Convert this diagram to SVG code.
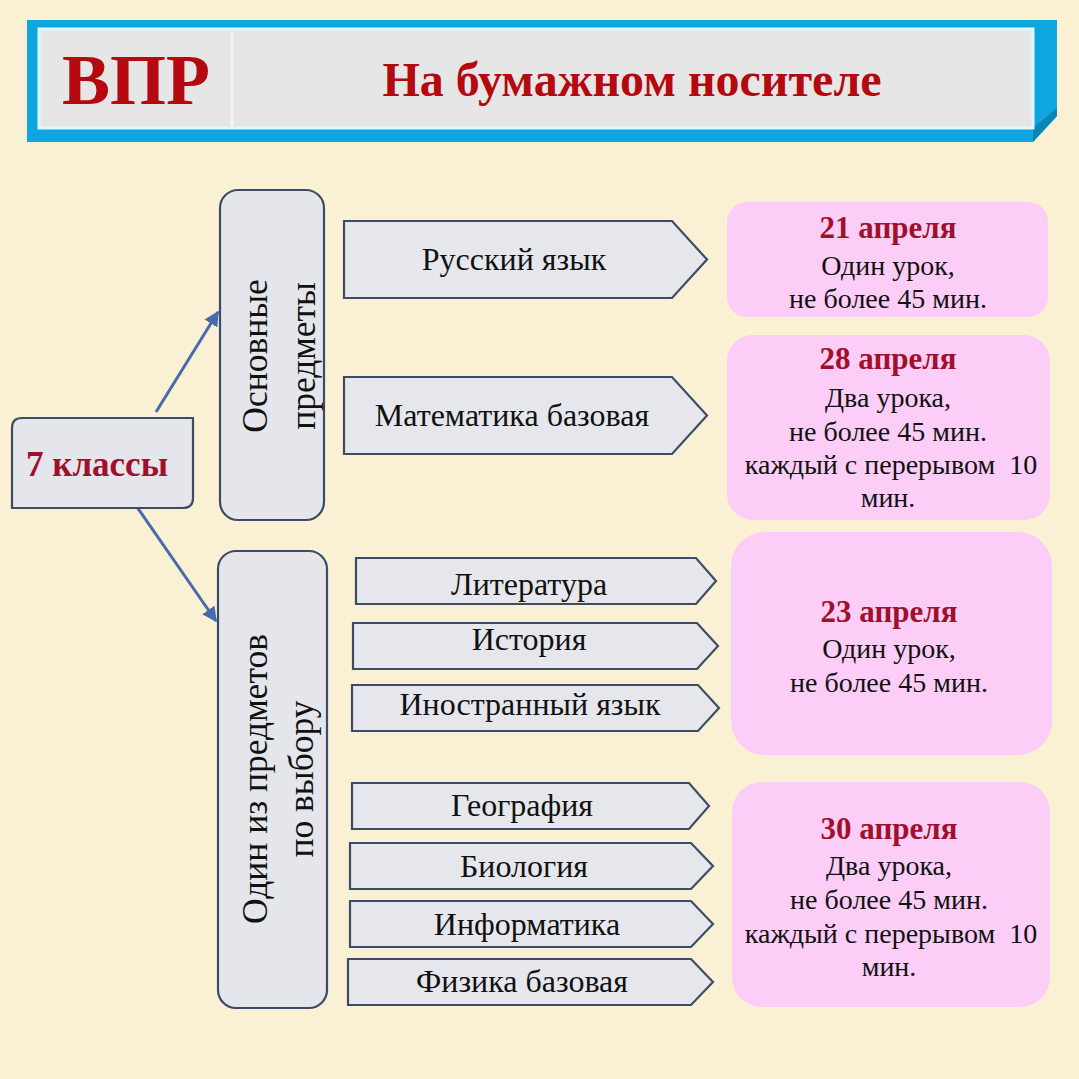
<svg xmlns="http://www.w3.org/2000/svg" width="1079" height="1079" viewBox="0 0 1079 1079">
<defs>
<style>
.bg{fill:#FAF1D4}
.pent{fill:#E6E7EC;stroke:#3D4C66;stroke-width:2.2}
.tall{fill:#E5E6EB;stroke:#3D4C66;stroke-width:2.2}
.pink{fill:#FBCDF7}
.t{font-family:"Liberation Serif","Times New Roman",serif;fill:#111}
.lbl{font-size:32px;text-anchor:middle}
.rot{font-size:35.5px;text-anchor:middle}
.date{font-family:"Liberation Serif","Times New Roman",serif;font-weight:bold;font-size:31px;fill:#A0102A;text-anchor:middle}
.info{font-size:28px;text-anchor:middle}
.conn{stroke:#4A6AAE;stroke-width:3;fill:none}
</style>
<marker id="ah" viewBox="0 0 10 10" refX="9" refY="5" markerWidth="5" markerHeight="5" orient="auto" markerUnits="strokeWidth">
<path d="M0,0 L10,5 L0,10 z" fill="#4A6AAE"/>
</marker>
</defs>
<rect class="bg" x="0" y="0" width="1079" height="1079"/>

<g id="header">
<polygon points="27,20 1057,20 1057,116 1033,142 27,142" fill="#0FA6DF"/>
<polygon points="1033,128 1057,108 1057,116 1033,142" fill="#0A86BD"/>
<rect x="39" y="29" width="994" height="99" fill="#E6E6E6" stroke="#DDF8FF" stroke-width="3"/>
<line x1="232" y1="31" x2="232" y2="126" stroke="#F4F4F4" stroke-width="3"/>
<text x="136" y="104" font-family="Liberation Serif, serif" font-weight="bold" font-size="72" fill="#B3090F" text-anchor="middle">ВПР</text>
<text x="632" y="96" font-family="Liberation Serif, serif" font-weight="bold" font-size="48" fill="#B3090F" text-anchor="middle">На бумажном носителе</text>
</g>

<g id="connectors">
<line class="conn" x1="156" y1="412" x2="218" y2="312" marker-end="url(#ah)"/>
<line class="conn" x1="137" y1="507" x2="216" y2="621" marker-end="url(#ah)"/>
</g>

<g id="node-7">
<path d="M22,418 L193,418 L193,498 Q193,508 183,508 L12,508 L12,428 Q12,418 22,418 Z" class="tall"/>
<text x="97" y="476" font-family="Liberation Serif, serif" font-weight="bold" font-size="35" fill="#A0102A" text-anchor="middle">7 классы</text>
</g>

<g id="node-main">
<rect class="tall" x="220" y="190" width="104" height="330" rx="18"/>
<text class="t rot" transform="translate(267,356) rotate(-90)">Основные</text>
<text class="t rot" transform="translate(315,356) rotate(-90)">предметы</text>
</g>

<g id="node-choice">
<rect class="tall" x="218" y="551" width="109" height="457" rx="18"/>
<text class="t rot" transform="translate(267,779) rotate(-90)">Один из предметов</text>
<text class="t rot" transform="translate(313,779) rotate(-90)">по выбору</text>
</g>

<g id="s-rus"><polygon class="pent" points="344,221 672,221 707,259.5 672,298 344,298"/><text class="t lbl" x="514" y="270">Русский язык</text></g>
<g id="s-math"><polygon class="pent" points="344,377 672,377 707,415.5 672,454 344,454"/><text class="t lbl" x="512" y="426">Математика базовая</text></g>
<g id="s-lit"><polygon class="pent" points="356,558 696,558 716,581 696,604 356,604"/><text class="t lbl" x="529" y="595">Литература</text></g>
<g id="s-hist"><polygon class="pent" points="353,623 697,623 718,646 697,669 353,669"/><text class="t lbl" x="529" y="650">История</text></g>
<g id="s-lang"><polygon class="pent" points="352,685 698,685 719,708 698,731 352,731"/><text class="t lbl" x="530" y="715">Иностранный язык</text></g>
<g id="s-geo"><polygon class="pent" points="352,783 689,783 709,806 689,829 352,829"/><text class="t lbl" x="522" y="816">География</text></g>
<g id="s-bio"><polygon class="pent" points="350,843 691,843 713,866 691,889 350,889"/><text class="t lbl" x="524" y="877">Биология</text></g>
<g id="s-inf"><polygon class="pent" points="350,901 691,901 713,924 691,947 350,947"/><text class="t lbl" x="527" y="935">Информатика</text></g>
<g id="s-phys"><polygon class="pent" points="348,959 691,959 713,982 691,1005 348,1005"/><text class="t lbl" x="522" y="992">Физика базовая</text></g>

<g id="d21">
<rect class="pink" x="727" y="202" width="321" height="115" rx="20"/>
<text class="date" x="888" y="238">21 апреля</text>
<text class="t info" x="888" y="275">Один урок,</text>
<text class="t info" x="888" y="308">не более 45 мин.</text>
</g>
<g id="d28">
<rect class="pink" x="727" y="335" width="323" height="185" rx="26"/>
<text class="date" x="888" y="369">28 апреля</text>
<text class="t info" x="888" y="407">Два урока,</text>
<text class="t info" x="888" y="441">не более 45 мин.</text>
<text class="t info" x="891" y="474" xml:space="preserve">каждый с перерывом  10</text>
<text class="t info" x="888" y="507">мин.</text>
</g>
<g id="d23">
<rect class="pink" x="731" y="532" width="321" height="223" rx="34"/>
<text class="date" x="889" y="622">23 апреля</text>
<text class="t info" x="889" y="658">Один урок,</text>
<text class="t info" x="889" y="692">не более 45 мин.</text>
</g>
<g id="d30">
<rect class="pink" x="732" y="782" width="318" height="225" rx="30"/>
<text class="date" x="889" y="839">30 апреля</text>
<text class="t info" x="889" y="875">Два урока,</text>
<text class="t info" x="889" y="909">не более 45 мин.</text>
<text class="t info" x="891" y="943" xml:space="preserve">каждый с перерывом  10</text>
<text class="t info" x="889" y="976">мин.</text>
</g>
</svg>
